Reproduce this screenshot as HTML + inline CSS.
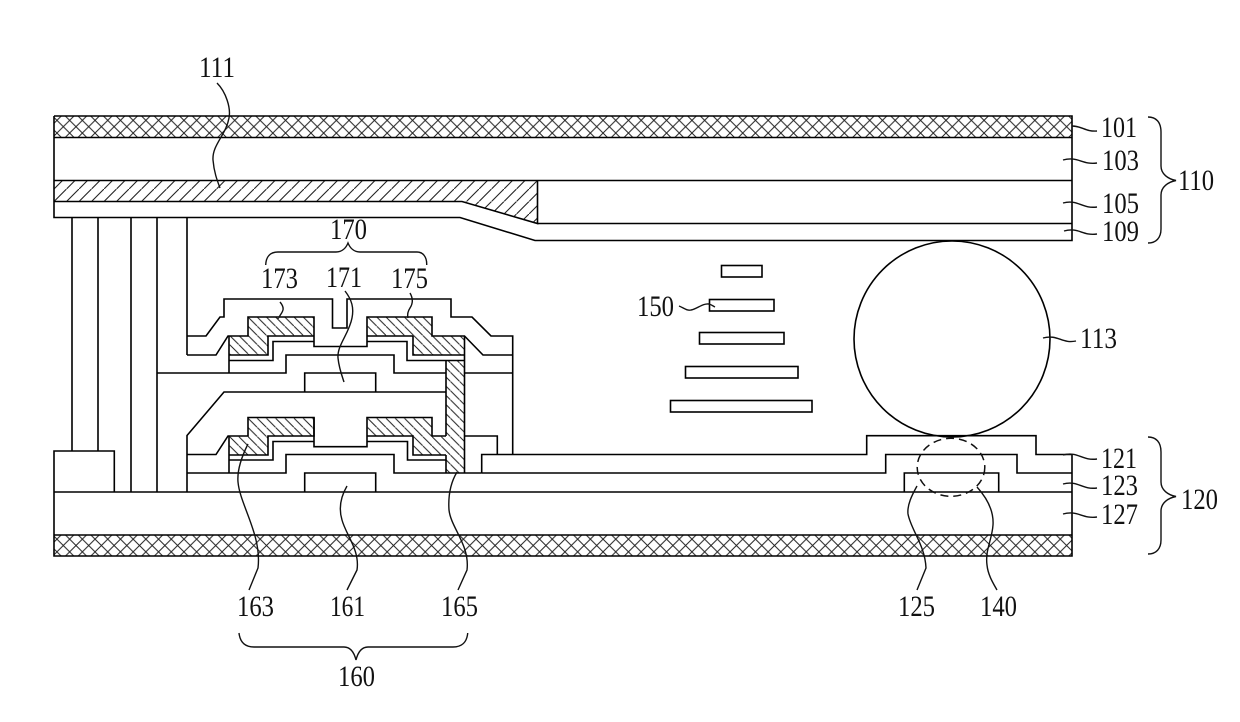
<!DOCTYPE html>
<html><head><meta charset="utf-8"><style>
html,body{margin:0;padding:0;background:#fff;width:1240px;height:722px;overflow:hidden}
svg{display:block}
text{font-family:"Liberation Serif",serif;font-size:30px;fill:#111}
.l{fill:none;stroke:#000;stroke-width:1.6;stroke-linejoin:miter}
.c{fill:none;stroke:#111;stroke-width:1.4}
</style></head><body>
<svg width="1240" height="722" viewBox="0 0 1240 722" xmlns="http://www.w3.org/2000/svg">
<defs>
<pattern id="x1" patternUnits="userSpaceOnUse" width="12.7" height="12.7" patternTransform="translate(56.95 120.35)">
<path d="M-1 -1L13.7 13.7M-1 13.7L13.7 -1" stroke="#222" stroke-width="1" fill="none"/></pattern>
<pattern id="x2" patternUnits="userSpaceOnUse" width="12.7" height="12.7" patternTransform="translate(56.95 539.15)">
<path d="M-1 -1L13.7 13.7M-1 13.7L13.7 -1" stroke="#222" stroke-width="1" fill="none"/></pattern>
<pattern id="f" patternUnits="userSpaceOnUse" width="12.5" height="12.5" patternTransform="translate(54 201.5)">
<path d="M-1 13.5L13.5 -1" stroke="#222" stroke-width="1.1" fill="none"/></pattern>
<pattern id="b" patternUnits="userSpaceOnUse" width="9.2" height="9.2" patternTransform="translate(248 317)">
<path d="M-1 -1L10.2 10.2" stroke="#222" stroke-width="1" fill="none"/></pattern>
</defs>

<!-- fills -->
<rect x="54" y="116" width="1018" height="21.5" fill="url(#x1)"/>
<rect x="54" y="535" width="1018" height="21" fill="url(#x2)"/>
<path d="M54 180.5H537.5V223.5L462 201.5H54Z" fill="url(#f)"/>
<path d="M229 336H248V317H314V336H268V355H229Z" fill="url(#b)"/>
<path d="M367 317H432V336H464.5V355H413V336H367Z" fill="url(#b)"/>
<path d="M229 436H248V417.5H314V436H268V455H229Z" fill="url(#b)"/>
<path d="M367 417.5H432V436H446V360.5H464.5V472.5H446V455H413V436H367Z" fill="url(#b)"/>

<!-- top stack -->
<path class="l" d="M54 116H1072V240.5H535L460 217.5H54V116"/>
<path class="l" d="M54 137.5H1072M54 180.5H1072M54 201.5H462L537.5 223.5V180.5M537.5 223.5H1072"/>

<!-- spacers -->
<path class="l" d="M72 217.5V451M98 217.5V451M131 217.5V492M157 217.5V492M187 217.5V355"/>
<path class="l" d="M54 492V451H114.3V492"/>

<!-- upper TFT -->
<path class="l" d="M187 336H206L220 317H224V299H332.5V328H347V299H451V317H472L491 336H512.7V454.5"/>
<path class="l" d="M187 355H216L228 336H248V317H314V346.5H367V317H432V336H464.5L483 355H512.7"/>
<path class="l" d="M229 336V373M229 355H268V336H314M229 360.5H273V341.5H314"/>
<path class="l" d="M367 336H413V355H464.5M367 341.5H407V360.5H464.5"/>
<path class="l" d="M157 373H229M229 373H286V355H394V373H446M464.5 373H512.7"/>
<path class="l" d="M304.7 392V373H375.7V392"/>
<path class="l" d="M187 492V435.5L224 392H446"/>
<path class="l" d="M446 360.5V436M464.5 336V473M446 455V473"/>

<!-- lower TFT -->
<path class="l" d="M187 454.5H216L228 436H248V417.5H314V446.7H367V417.5H432V436H446"/>
<path class="l" d="M229 436V473M229 455H268V436H314V417.5M229 460H273V441.5H314"/>
<path class="l" d="M367 436H413V455H446M367 441.5H407.5V460H446"/>
<path class="l" d="M187 473H286V454.5H394V473H481.7"/>
<path class="l" d="M304.7 492V473H375.7V492"/>
<path class="l" d="M464.5 436H497.3V454.5M481.7 473V454.5H866.7V435.7H1036V454.5H1072"/>
<path class="l" d="M481.7 473H885.7V454.5H1017V473H1072"/>
<path class="l" d="M904.3 492V473H998.7V492"/>

<!-- bottom stack -->
<path class="l" d="M54 492H1072M54 492V556H1072V454.5M54 535H1072"/>

<!-- ball, dashed, stack -->
<circle class="l" cx="952" cy="339" r="98"/>
<ellipse cx="951" cy="467.3" rx="33.8" ry="29" fill="none" stroke="#111" stroke-width="1.5" stroke-dasharray="8 5"/>
<rect class="l" x="721.5" y="265.5" width="40.5" height="11.5"/>
<rect class="l" x="709.5" y="299.5" width="64.5" height="11.5"/>
<rect class="l" x="699.5" y="332.5" width="84.5" height="11.5"/>
<rect class="l" x="685.5" y="366.5" width="112.5" height="11.5"/>
<rect class="l" x="670.5" y="400.5" width="141.5" height="11.5"/>

<!-- leaders -->
<path class="c" d="M217 83C226 92 231 108 229 118C226 135 212 145 213 160C214 172 217 180 220 188"/>
<path class="c" d="M1072 126C1082 126 1086 132 1097 131"/>
<path class="c" d="M1063 160C1078 156 1082 165 1097 163"/>
<path class="c" d="M1063 203C1078 199 1082 209 1097 207"/>
<path class="c" d="M1064 231C1079 227 1082 236 1097 234"/>
<path class="c" d="M1063 455C1078 451 1082 461 1097 459"/>
<path class="c" d="M1063 484C1078 480 1082 490 1097 488"/>
<path class="c" d="M1063 514C1078 510 1082 519 1097 517"/>
<path class="c" d="M1043 338C1058 334 1062 344 1076 341"/>
<path class="c" d="M679 306C684 308 687 311 691 310C697 309 703 303 709 304C712 305 713 306 715 307"/>
<path class="c" d="M280 302C285 308 283 311 281 314C279 317 278 319 278 318"/>
<path class="c" d="M345 291C352 300 354 308 352 318C349 334 337 345 338 358C339 368 342 376 344 382"/>
<path class="c" d="M410 293C414 300 412 305 410 308C408 311 407 314 408 318"/>
<path class="c" d="M248 444C242 456 237 470 238 482C240 505 262 535 258 568L249 590"/>
<path class="c" d="M347 486C340 498 339 510 342 520C346 535 360 550 357 570L347 590"/>
<path class="c" d="M457 472C451 482 448 495 449 510C451 528 470 545 467 570L458 590"/>
<path class="c" d="M917 486C912 495 907 505 908 514C911 530 925 545 926 568L917 590"/>
<path class="c" d="M977 487C986 497 994 510 993 525C992 540 985 550 987 565C988 575 993 583 997 590"/>

<!-- braces -->
<path class="c" d="M1148 117C1156 117 1161 122 1161 132V166C1161 174 1168 179 1176 180.5C1168 182 1161 187 1161 195V229C1161 238 1156 243 1148 243"/>
<path class="c" d="M1148 437C1156 437 1161 442 1161 452V482C1161 490 1168 495 1176 496.5C1168 498 1161 503 1161 511V540C1161 549 1156 554 1148 554"/>
<path class="c" d="M265.7 265C266 257 270 252 278 252H336C342 252 346 248 348 243C350 248 354 252 360 252H417C423 252 427 257 426.7 265"/>
<path class="c" d="M239 633C240 642 245 647 254 647H344C350 647 354 652 356 660C358 652 362 647 368 647H453C462 647 467 642 467.7 633"/>

<!-- labels -->
<text x="199" y="77" textLength="36" lengthAdjust="spacingAndGlyphs">111</text>
<text x="1101" y="137" textLength="36" lengthAdjust="spacingAndGlyphs">101</text>
<text x="1102" y="170" textLength="37" lengthAdjust="spacingAndGlyphs">103</text>
<text x="1102" y="213" textLength="37" lengthAdjust="spacingAndGlyphs">105</text>
<text x="1102" y="241" textLength="37" lengthAdjust="spacingAndGlyphs">109</text>
<text x="1178" y="190" textLength="36" lengthAdjust="spacingAndGlyphs">110</text>
<text x="330" y="239" textLength="37" lengthAdjust="spacingAndGlyphs">170</text>
<text x="261" y="288" textLength="37" lengthAdjust="spacingAndGlyphs">173</text>
<text x="326" y="287" textLength="36" lengthAdjust="spacingAndGlyphs">171</text>
<text x="391" y="288" textLength="37" lengthAdjust="spacingAndGlyphs">175</text>
<text x="637" y="316" textLength="37" lengthAdjust="spacingAndGlyphs">150</text>
<text x="1080" y="348" textLength="37" lengthAdjust="spacingAndGlyphs">113</text>
<text x="1101" y="468" textLength="36" lengthAdjust="spacingAndGlyphs">121</text>
<text x="1101" y="495" textLength="37" lengthAdjust="spacingAndGlyphs">123</text>
<text x="1101" y="524" textLength="37" lengthAdjust="spacingAndGlyphs">127</text>
<text x="1181" y="509" textLength="37" lengthAdjust="spacingAndGlyphs">120</text>
<text x="237" y="616" textLength="37" lengthAdjust="spacingAndGlyphs">163</text>
<text x="330" y="616" textLength="35" lengthAdjust="spacingAndGlyphs">161</text>
<text x="441" y="616" textLength="37" lengthAdjust="spacingAndGlyphs">165</text>
<text x="338" y="686" textLength="37" lengthAdjust="spacingAndGlyphs">160</text>
<text x="898" y="616" textLength="37" lengthAdjust="spacingAndGlyphs">125</text>
<text x="980" y="616" textLength="37" lengthAdjust="spacingAndGlyphs">140</text>
</svg>
</body></html>
